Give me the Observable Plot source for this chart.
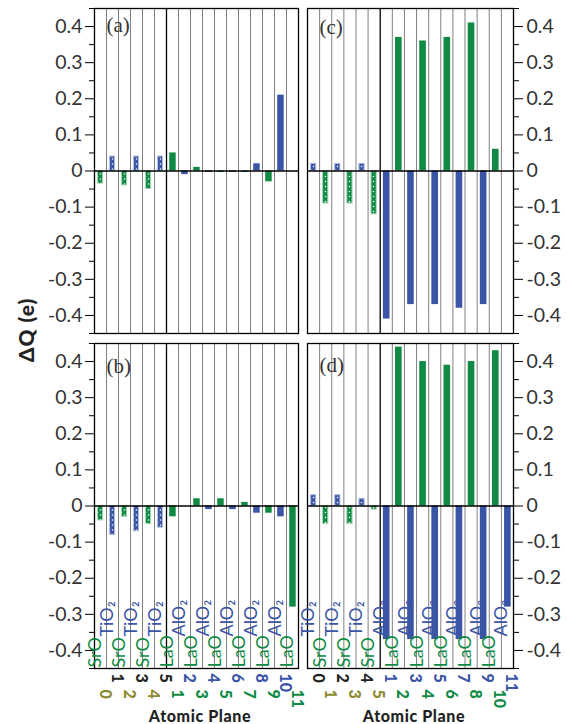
<!DOCTYPE html>
<html><head><meta charset="utf-8">
<script src="https://cdn.jsdelivr.net/npm/d3@7"></script>
<script src="https://cdn.jsdelivr.net/npm/@observablehq/plot@0.6"></script>
<style>
body{margin:0;background:#fff;}
#fig{position:relative;width:567px;height:724px;overflow:hidden;font-family:Lato,"Open Sans",sans-serif;}
#fig > svg, #fig > div{position:absolute;}
.lab{font-weight:bold;color:#222;white-space:nowrap;}
</style></head><body><div id="fig"></div>
<script>
// ---- data ----
const planesAB = ["SrO","TiO₂","SrO","TiO₂","SrO","TiO₂","LaO","AlO₂","LaO","AlO₂","LaO","AlO₂","LaO","AlO₂","LaO","AlO₂","LaO"];
const planesCD = ["TiO₂","SrO","TiO₂","SrO","TiO₂","SrO","AlO₂","LaO","AlO₂","LaO","AlO₂","LaO","AlO₂","LaO","AlO₂","LaO","AlO₂"];
const planeNumbers = ["0","1","2","3","4","5","1","2","3","4","5","6","7","8","9","10","11"];
const valuesA = [-0.035, 0.04, -0.04, 0.04, -0.05, 0.04, 0.05, -0.01, 0.01, -0.004, -0.004, -0.004, -0.004, 0.02, -0.03, 0.21, 0];
const valuesB = [-0.04, -0.08, -0.03, -0.07, -0.05, -0.06, -0.03, 0, 0.02, -0.01, 0.02, -0.01, 0.01, -0.02, -0.02, -0.03, -0.28];
const valuesC = [0.02, -0.09, 0.02, -0.09, 0.02, -0.12, -0.41, 0.37, -0.37, 0.36, -0.37, 0.37, -0.38, 0.41, -0.37, 0.06, 0];
const valuesD = [0.03, -0.05, 0.03, -0.05, 0.02, -0.01, -0.37, 0.44, -0.37, 0.40, -0.37, 0.39, -0.37, 0.40, -0.37, 0.43, -0.28];
const yTicks = [-0.4, -0.3, -0.2, -0.1, 0, 0.1, 0.2, 0.3, 0.4];
const yMinorTicks = [-0.45, -0.35, -0.25, -0.15, -0.05, 0.05, 0.15, 0.25, 0.35, 0.45];
const yDomain = [-0.45, 0.45];
const nPlanes = planeNumbers.length;
const substratePlanes = 6;

// ---- style ----
const GREEN = "#0e8a44", BLUE = "#3a54a6", OLIVE = "#8c8a2e", INK = "#222";
const numberColor = {"SrO": OLIVE, "TiO₂": INK, "LaO": GREEN, "AlO₂": BLUE};
const labelColor = {"SrO": GREEN, "TiO₂": BLUE, "LaO": GREEN, "AlO₂": BLUE};
const isBlue = p => p === "TiO₂" || p === "AlO₂";

const fig = document.getElementById("fig");

// patterns for the substrate (dotted) bars
const defs = document.createElementNS("http://www.w3.org/2000/svg", "svg");
defs.setAttribute("width", 0); defs.setAttribute("height", 0);
defs.style.left = "0"; defs.style.top = "0";
defs.innerHTML = `<defs>
<pattern id="dotG" width="6" height="5" patternUnits="userSpaceOnUse"><rect width="6" height="5" fill="${GREEN}"/><circle cx="1.5" cy="1.5" r="0.8" fill="#fff"/><circle cx="4.5" cy="4" r="0.8" fill="#fff"/></pattern>
<pattern id="dotB" width="6" height="5" patternUnits="userSpaceOnUse"><rect width="6" height="5" fill="${BLUE}"/><circle cx="1.5" cy="1.5" r="0.8" fill="#fff"/><circle cx="4.5" cy="4" r="0.8" fill="#fff"/></pattern>
</defs>`;
fig.appendChild(defs);

const fmt = d => d === 0 ? "0" : d.toFixed(1);

function panel({values, planes, letter, side, bottom, left, top, width, height, margin, letterDy}) {
  const data = values.map((v, i) => ({i, v, plane: planes[i]}));
  const solid = data.filter(d => d.i >= substratePlanes);
  const dotted = data.filter(d => d.i < substratePlanes);
  const bars = (arr, fill, stroke, insL, insR) => Plot.rectY(arr, {
    x1: d => d.i, x2: d => d.i + 1, y1: 0, y2: "v",
    fill, stroke, strokeWidth: stroke ? 1 : 0, insetLeft: insL, insetRight: insR
  });
  const marks = [
    Plot.ruleX(d3.range(1, nPlanes).filter(k => k !== substratePlanes), {stroke: "#808080", strokeWidth: 1}),
    Plot.ruleX([substratePlanes], {stroke: "#000", strokeWidth: 1.3}),
    bars(solid.filter(d => !isBlue(d.plane)), GREEN, null, 3.2, 2.3),
    bars(solid.filter(d => isBlue(d.plane)), BLUE, null, 3.2, 2.3),
    bars(dotted.filter(d => !isBlue(d.plane)), "url(#dotG)", "#a8d6b8", 3.4, 3.4),
    bars(dotted.filter(d => isBlue(d.plane)), "url(#dotB)", "#b4bfe2", 3.4, 3.4),
    Plot.ruleY([0], {stroke: "#000", strokeWidth: 1.3}),
    Plot.frame({stroke: "#000", strokeWidth: 1.3}),
    Plot.axisY(yTicks, {anchor: side, tickSize: 9, tickPadding: side === "left" ? 3 : 4, tickFormat: fmt, fontSize: 19.5, fill: "#333", stroke: "#000", label: null}),
    Plot.axisY(yMinorTicks, {anchor: side, tickSize: 5, tickFormat: () => "", stroke: "#000", label: null}),
    Plot.text([letter], {frameAnchor: "top-left", dx: 12, dy: letterDy, text: d => d, textAnchor: "start", lineAnchor: "top", fontFamily: "'Liberation Serif', serif", fontSize: 21, fill: "#333"})
  ];
  if (bottom) {
    marks.push(
      Plot.text(data.filter(d => !isBlue(d.plane)), {x: d => d.i + 0.5, frameAnchor: "bottom", text: "plane", rotate: -90, textAnchor: "start", dy: -1, fill: d => labelColor[d.plane], fontSize: 18}),
      Plot.text(data.filter(d => isBlue(d.plane)), {x: d => d.i + 0.5, frameAnchor: "bottom", text: "plane", rotate: -90, textAnchor: "start", dy: -32, fill: d => labelColor[d.plane], fontSize: 18}),
      Plot.text(data.filter(d => isBlue(d.plane)), {x: d => d.i + 0.5, frameAnchor: "bottom", text: d => planeNumbers[d.i], rotate: 90, textAnchor: "start", dy: 5, dx: -1, fill: d => numberColor[d.plane], fontSize: 16, fontWeight: "900"}),
      Plot.text(data.filter(d => !isBlue(d.plane)), {x: d => d.i + 0.5, frameAnchor: "bottom", text: d => planeNumbers[d.i], rotate: 90, textAnchor: "start", dy: 21, dx: -1, fill: d => numberColor[d.plane], fontSize: 16, fontWeight: "900"})
    );
  }
  const svg = Plot.plot({
    width, height,
    marginLeft: margin[3], marginRight: margin[1], marginTop: margin[0], marginBottom: margin[2],
    style: {fontFamily: "Lato, 'Open Sans', sans-serif", background: "transparent", overflow: "visible"},
    x: {domain: [0, nPlanes], axis: null},
    y: {domain: yDomain},
    color: {type: "identity"},
    marks
  });
  svg.style.left = left + "px";
  svg.style.top = top + "px";
  fig.appendChild(svg);
}

panel({values: valuesA, planes: planesAB, letter: "(a)", side: "left", bottom: false, left: 0, top: 0, width: 300, height: 340, margin: [8, 2, 7, 94], letterDy: 9});
panel({values: valuesB, planes: planesAB, letter: "(b)", side: "left", bottom: true, left: 0, top: 336, width: 300, height: 388, margin: [7, 2, 56, 94], letterDy: 15});
panel({values: valuesC, planes: planesCD, letter: "(c)", side: "right", bottom: false, left: 300, top: 0, width: 267, height: 340, margin: [8, 54, 7, 7], letterDy: 11});
panel({values: valuesD, planes: planesCD, letter: "(d)", side: "right", bottom: true, left: 300, top: 336, width: 267, height: 388, margin: [7, 54, 56, 7], letterDy: 14});

// axis titles
const yl = document.createElement("div");
yl.className = "lab"; yl.textContent = "ΔQ (e)";
Object.assign(yl.style, {left: "25px", top: "330px", fontSize: "21px", fontWeight: "900", letterSpacing: "1px", transform: "translate(-50%,-50%) rotate(-90deg)"});
fig.appendChild(yl);
[[200], [414]].forEach(([cx]) => {
  const xl = document.createElement("div");
  xl.className = "lab"; xl.textContent = "Atomic Plane";
  Object.assign(xl.style, {left: cx + "px", top: "715px", fontSize: "16px", fontWeight: "900", letterSpacing: "0.6px", transform: "translate(-50%,-50%)"});
  fig.appendChild(xl);
});
</script></body></html>
